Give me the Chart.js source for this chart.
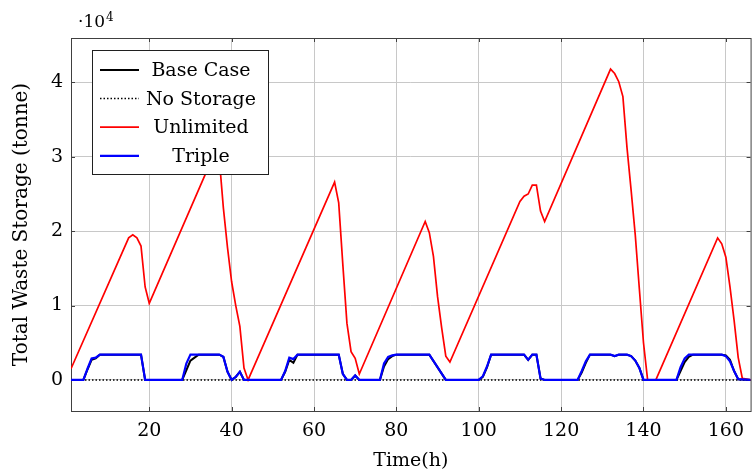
<!DOCTYPE html>
<html>
<head>
<meta charset="utf-8">
<script src="https://cdn.jsdelivr.net/npm/chart.js@4.4.0/dist/chart.umd.min.js"></script>
<style>
  html, body { margin: 0; padding: 0; background: #fff; }
  #wrap { width: 753px; height: 474px; }
</style>
</head>
<body>
<div id="wrap"><canvas id="storage_chart" width="753" height="474"></canvas></div>
<script>
// Hours and total waste storage (tonne)
var baseHours = [1,4,5,6,7,8,18,19, 28,29,30,31,32,37,38,39,40,41,42,43, 52,53,54,55,56,66,67,68,69,70,71, 76,77,78,79,80,88,92, 100,101,102,103,111,112,113,114,115,116, 124,125,126,127,132,133,134,136,137,138,139,140, 148,149,150,151,152,159,160,161,162,163,166];
var baseValues = [0,0,1400,2700,2900,3400,3400,0, 0,1300,2600,3000,3400,3400,3100,1100,0,400,1100,0, 0,1100,2700,2300,3400,3400,800,0,0,600,0, 0,1800,2800,3200,3400,3400,0, 0,400,1700,3400,3400,2700,3400,3400,200,0, 0,1000,2300,3400,3400,3200,3400,3400,3200,2600,1600,0, 0,1200,2400,3100,3400,3400,3300,2700,1200,100,0];

var noStorageHours = [1, 166];
var noStorageValues = [0, 0];

var unlimitedHours = [1,15,16,17,18,19,20, 36,37,38,39,40,41,42,43,44, 65,66,67,68,69,70,71, 87,88,89,90,91,92,93, 110,111,112,113,114,115,116, 132,133,134,135,136,137,138,139,140,141, 143, 158,159,160,161,162,163,164, 166];
var unlimitedValues = [1500,19100,19500,19100,18000,12500,10300, 30700,29800,23100,17800,13200,10000,7200,1600,0, 26600,23800,15500,7600,3800,2900,800, 21300,19800,16600,11200,7000,3200,2400, 24000,24700,25000,26200,26200,22700,21300, 41800,41200,40100,38100,31200,25500,19500,12200,5000,0, 0, 19100,18300,16500,12500,8000,3000,200, 0];

var tripleHours = [1,4,5,6,7,8,18,19, 28,29,30,37,38,39,40,41,42,43, 52,53,54,55,56,66,67,68,69,70,71, 76,77,78,79,80,88,92, 100,101,102,103,111,112,113,114,115,116, 124,125,126,127,132,133,134,136,137,138,139,140, 148,149,150,151,159,160,161,162,163,166];
var tripleValues = [0,0,1500,2900,3000,3400,3400,0, 0,2200,3400,3400,3100,1100,0,400,1100,0, 0,1200,3000,2800,3400,3400,800,0,0,600,0, 0,2200,3100,3300,3400,3400,0, 0,500,1800,3400,3400,2700,3400,3400,200,0, 0,1200,2500,3400,3400,3200,3400,3400,3200,2600,1600,0, 0,1700,2900,3400,3400,3200,2500,1200,100,0];

var xTickValues = [20, 40, 60, 80, 100, 120, 140, 160];
var yTickValues = [0, 10000, 20000, 30000, 40000];

var serif = '"DejaVu Serif", "Liberation Serif", serif';

function toPoints(xs, ys) {
    return xs.map(function(x, i) { return {x: x, y: ys[i]}; });
}

// frame + little inward tick marks like pgfplots
var framePlugin = {
    id: 'frame',
    beforeDatasetsDraw: function(chart) {
        var a = chart.chartArea, ctx = chart.ctx;
        var xs = chart.scales.x, ys = chart.scales.y;
        ctx.save();
        ctx.strokeStyle = '#404040';
        ctx.lineWidth = 1;
        ctx.beginPath();
        xTickValues.forEach(function(v) {
            var px = Math.round(xs.getPixelForValue(v)) + 0.5;
            ctx.moveTo(px, a.bottom); ctx.lineTo(px, a.bottom - 4);
            ctx.moveTo(px, a.top); ctx.lineTo(px, a.top + 4);
        });
        yTickValues.forEach(function(v) {
            var py = Math.round(ys.getPixelForValue(v)) + 0.5;
            ctx.moveTo(a.left, py); ctx.lineTo(a.left + 4, py);
            ctx.moveTo(a.right, py); ctx.lineTo(a.right - 4, py);
        });
        ctx.stroke();
        ctx.strokeRect(a.left + 0.5, a.top + 0.5, a.right - a.left, a.bottom - a.top);
        ctx.restore();
    },
    afterDraw: function(chart) {
        // the "·10^4" multiplier above the y axis
        var ctx = chart.ctx;
        ctx.save();
        ctx.fillStyle = '#000';
        ctx.textBaseline = 'alphabetic';
        ctx.font = '17px ' + serif;
        ctx.fillText('\u00b710', 78, 27);
        var w = ctx.measureText('\u00b710').width;
        ctx.font = '12px ' + serif;
        ctx.fillText('4', 78 + w + 1, 21);
        ctx.restore();
    }
};

// legend box with centred labels
var legendPlugin = {
    id: 'boxLegend',
    afterDraw: function(chart) {
        var ctx = chart.ctx;
        var box = {x: 92.5, y: 50.5, w: 176, h: 124};
        ctx.save();
        ctx.fillStyle = '#fff';
        ctx.fillRect(box.x, box.y, box.w, box.h);
        ctx.strokeStyle = '#202020';
        ctx.lineWidth = 1;
        ctx.strokeRect(box.x, box.y, box.w, box.h);
        ctx.font = '19px ' + serif;
        ctx.textAlign = 'center';
        ctx.textBaseline = 'middle';
        chart.data.datasets.forEach(function(ds, i) {
            var y = 70 + i * 28.6;
            ctx.beginPath();
            ctx.strokeStyle = ds.borderColor;
            ctx.lineWidth = ds.borderWidth;
            ctx.setLineDash(ds.borderDash || []);
            ctx.moveTo(100, y);
            ctx.lineTo(139, y);
            ctx.stroke();
            ctx.setLineDash([]);
            ctx.fillStyle = '#000';
            ctx.fillText(ds.label, 201, y + 1);
        });
        ctx.restore();
    }
};

var ctx = document.getElementById('storage_chart').getContext('2d');
new Chart(ctx, {
    type: 'line',
    data: {
        datasets: [{
            label: 'Base Case',
            data: toPoints(baseHours, baseValues),
            borderColor: '#000000',
            borderWidth: 2,
            order: 3
        }, {
            label: 'No Storage',
            data: toPoints(noStorageHours, noStorageValues),
            borderColor: '#000000',
            borderWidth: 1.5,
            borderDash: [1.5, 2],
            order: 2
        }, {
            label: 'Unlimited',
            data: toPoints(unlimitedHours, unlimitedValues),
            borderColor: '#ff0000',
            borderWidth: 1.7,
            order: 1
        }, {
            label: 'Triple',
            data: toPoints(tripleHours, tripleValues),
            borderColor: '#0000ff',
            borderWidth: 2.2,
            order: 0
        }]
    },
    options: {
        responsive: false,
        animation: false,
        devicePixelRatio: 1,
        layout: { padding: { top: 38, right: 0, left: 0, bottom: 0 } },
        elements: {
            point: { radius: 0 },
            line: { tension: 0, fill: false }
        },
        plugins: {
            legend: { display: false },
            tooltip: { enabled: false }
        },
        scales: {
            x: {
                type: 'linear',
                min: 1,
                max: 166,
                afterBuildTicks: function(axis) {
                    axis.ticks = xTickValues.map(function(v) { return {value: v}; });
                },
                afterFit: function(axis) { axis.height = 63; },
                grid: { color: '#c8c8c8', drawTicks: false },
                border: { display: false },
                ticks: {
                    padding: 9,
                    color: '#000',
                    font: { family: serif, size: 19 },
                    maxRotation: 0
                },
                title: {
                    display: true,
                    text: 'Time(h)',
                    color: '#000',
                    font: { family: serif, size: 19 },
                    padding: { top: 0, bottom: 2 }
                }
            },
            y: {
                min: -4180,
                max: 45980,
                afterBuildTicks: function(axis) {
                    axis.ticks = yTickValues.map(function(v) { return {value: v}; });
                },
                afterFit: function(axis) { axis.width = 71; },
                grid: { color: '#c8c8c8', drawTicks: false },
                border: { display: false },
                ticks: {
                    padding: 8,
                    color: '#000',
                    font: { family: serif, size: 19 },
                    callback: function(v) { return String(v / 10000); }
                },
                title: {
                    display: true,
                    text: 'Total Waste Storage (tonne)',
                    color: '#000',
                    font: { family: serif, size: 20 },
                    padding: { top: 10, bottom: 0 }
                }
            }
        }
    },
    plugins: [framePlugin, legendPlugin]
});
</script>
</body>
</html>
